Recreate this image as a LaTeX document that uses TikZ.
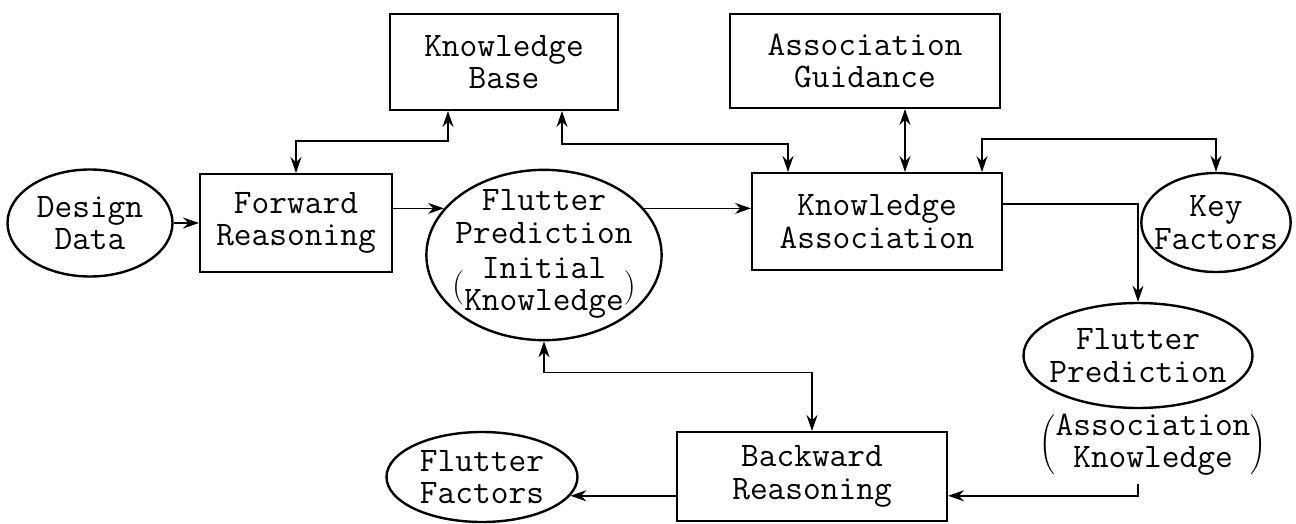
\documentclass[tikz,border=0pt]{standalone}
\usepackage{tikz}
\usetikzlibrary{arrows.meta}
\usetikzlibrary{shapes}

\begin{document}
\begin{tikzpicture}[x=0.5pt,y=-0.5pt,
			every node/.style={font=\ttfamily\fontsize{17.2}{16.2}\selectfont, align=center},
			box/.style={draw, line width=1pt, inner sep=0pt},
			blob/.style={draw, ellipse, line width=1.2pt, inner sep=0pt},
			link/.style={line width=0.8pt},
			>={Stealth[length=8pt,width=5.5pt]}]
			\useasboundingbox (0,0) rectangle (1296,524);
			
			% boxes
			\node[box, minimum width=114pt, minimum height=48pt] (kb) at (504,62) {Knowledge\\Base};
			\node[box, minimum width=135pt, minimum height=47pt] (ag) at (865,61) {Association\\Guidance};
			\node[box, minimum width=96pt, minimum height=49pt] (fr) at (296,223) {Forward\\Reasoning};
			\node[box, minimum width=125pt, minimum height=48.5pt] (ka) at (877,221.5) {Knowledge\\Association};
			\node[box, minimum width=135pt, minimum height=44.5pt] (br) at (812,476.5) {Backward\\Reasoning};
			
			% blobs
			\node[blob, minimum width=82.5pt, minimum height=53.5pt] (dd) at (90,223) {Design\\Data};
			\node[blob, inner xsep=-4.6pt, minimum height=49.5pt] (kf) at (1216,222.5) {Key\\Factors};
			\node[blob, inner xsep=-3.8pt, minimum height=52.5pt] (fpr) at (1138,355.5) {Flutter\\Prediction};
			\node[blob, minimum width=95.5pt, minimum height=45pt] (ff) at (482,477) {Flutter\\Factors};
			\node[blob, inner xsep=-4.4pt, inner ysep=-2.5pt] (fpi) at (544,255)
				{Flutter\\Prediction\\[5pt]$\bigl(\begin{tabular}{@{}c@{}}Initial\\Knowledge\end{tabular}\bigr)$};
			\node (fpak) at (1153,445)
				{$\left(\begin{tabular}{@{}c@{}}Association\\Knowledge\end{tabular}\right)$};
			
			% links
			\draw[link,->] (dd) -- (fr);
			\draw[link,<->] (fr.north) -- ++(0,-32) -| ([xshift=-28pt]kb.south);
			\draw[link,<->] ([xshift=29pt]kb.south) -- ++(0,33) -| ([xshift=-44.5pt]ka.north);
			\draw[link,<->] ([xshift=20pt]ag.south) -- ([xshift=14pt]ka.north);
			\draw[link,<->] (kf.north) -- ++(0,-33) -| ([xshift=52.5pt]ka.north);
			\draw[link,->] ([yshift=8.75pt]ka.east) -| (fpr.north);
			\draw[link,->] (fr.east |- fpi.155) -- (fpi.155);
			\draw[link,->] (fpi.25) -- (ka.west |- fpi.25);
			\draw[link,<->] (fpi.south) -- ++(0,31) -| (br.north);
			\draw[link,->] ([xshift=-7.5pt]fpak.south) |- (br.east |- ff.-12);
			\draw[link,->] (br.west |- ff.-12) -- (ff.-12);
		\end{tikzpicture}
\end{document}
